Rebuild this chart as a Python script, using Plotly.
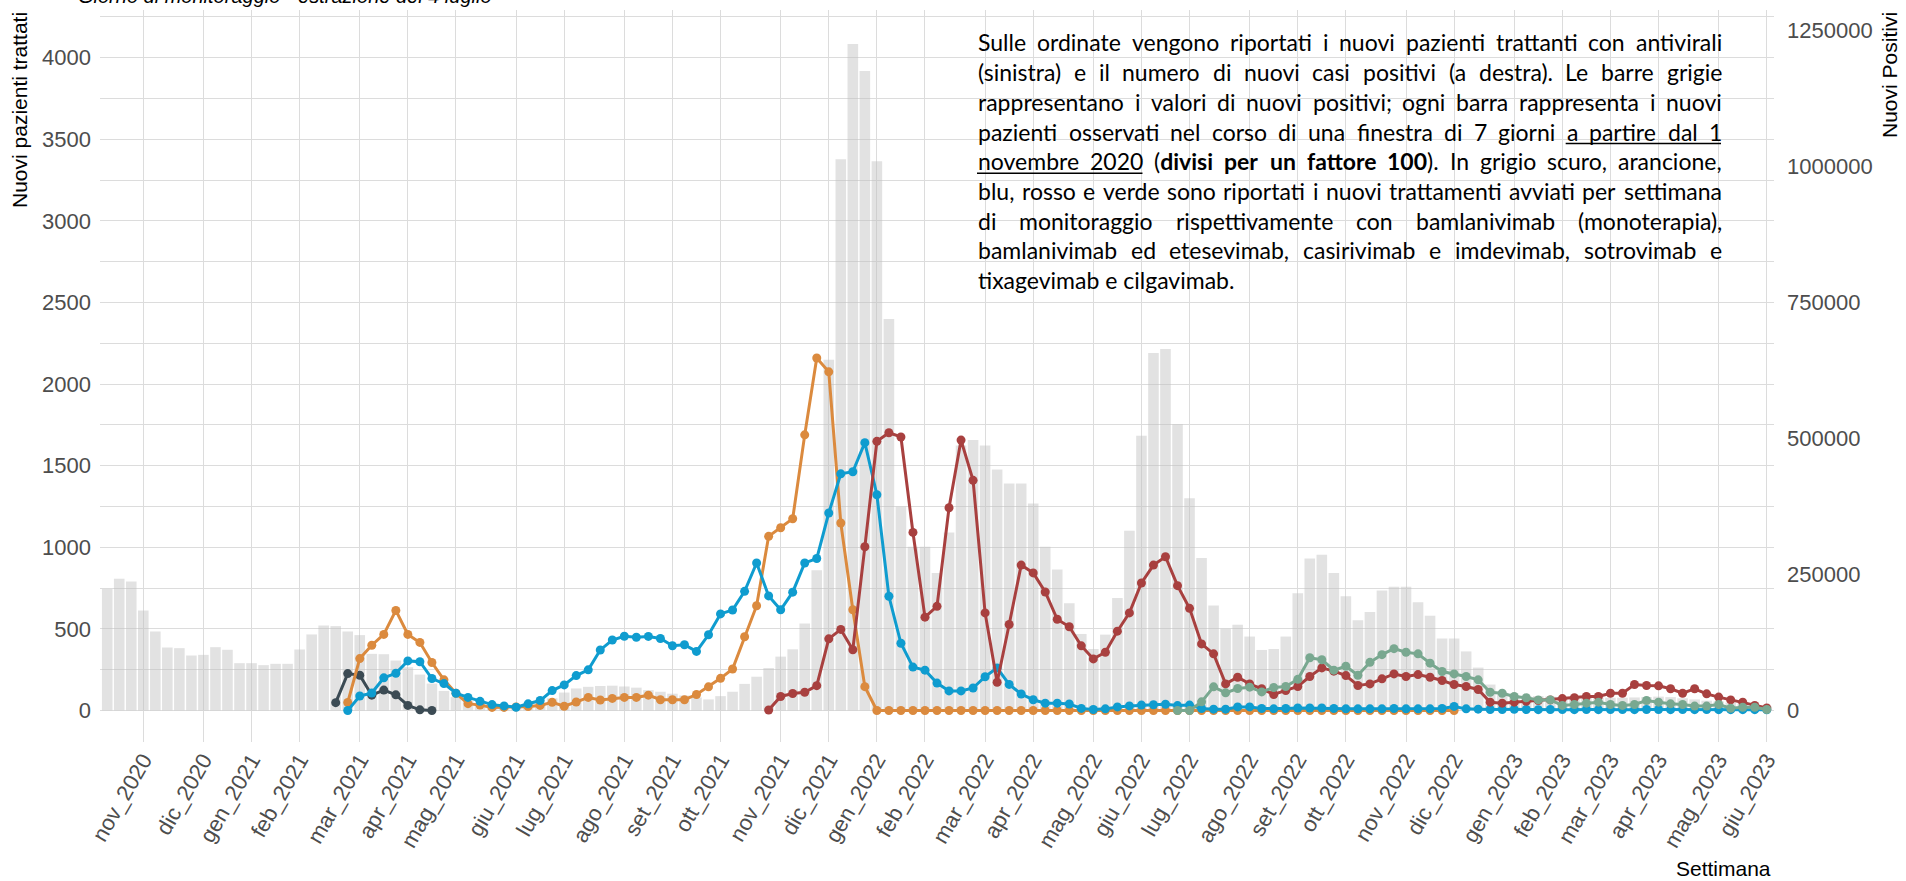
import re
import plotly.graph_objects as go

# ---------------- data ----------------
weeks = list(range(139))

tick_weeks = [3, 8, 12, 16, 21, 25, 29, 34, 38, 43, 47, 51, 56, 60, 64, 68, 73, 77,
              82, 86, 90, 95, 99, 103, 108, 112, 117, 121, 125, 129, 134, 138]
tick_labels = ["nov_2020", "dic_2020", "gen_2021", "feb_2021", "mar_2021", "apr_2021",
               "mag_2021", "giu_2021", "lug_2021", "ago_2021", "set_2021", "ott_2021",
               "nov_2021", "dic_2021", "gen_2022", "feb_2022", "mar_2022", "apr_2022",
               "mag_2022", "giu_2022", "lug_2022", "ago_2022", "set_2022", "ott_2022",
               "nov_2022", "dic_2022", "gen_2023", "feb_2023", "mar_2023", "apr_2023",
               "mag_2023", "giu_2023"]

# weekly new positives (right axis)
nuovi_positivi = [
    223500, 242100, 237000, 183900, 145200, 115800, 114600, 101100, 102300, 116400,
    111600, 87000, 87000, 83400, 85800, 85800, 112200, 139800, 156300, 155100,
    145200, 138600, 104100, 103500, 91800, 79500, 66000, 49500, 36000, 24600,
    18000, 13500, 10500, 7500, 6600, 8400, 13500, 22500, 33000, 40500,
    43500, 45000, 45600, 44100, 42000, 37500, 34500, 30900, 27600, 24000,
    20400, 26400, 34500, 48900, 62100, 78000, 99000, 112500, 159900, 258000,
    644700, 1013400, 1224900, 1175400, 1009500, 719700, 375000, 300900, 300900, 252900,
    327300, 486900, 497100, 486900, 442800, 417300, 417300, 380700, 300900, 259200,
    197100, 140700, 113100, 139500, 207000, 330600, 504900, 657000, 664500, 526200,
    390000, 280200, 192900, 150000, 157800, 135900, 111300, 113100, 135900, 215400,
    279600, 286500, 252600, 210000, 165900, 181200, 220800, 227400, 227400, 198900,
    174300, 132300, 132300, 108600, 78900, 47700, 33000, 28500, 26400, 26400,
    25500, 24600, 24000, 24000, 24000, 23400, 23400, 24000, 24600, 25500,
    24600, 22500, 20400, 18000, 16500, 14400, 12600, 10500, 7500]

# new treated patients per week (left axis)
bamlanivimab_start = 19
bamlanivimab = [48, 226, 216, 94, 125, 96, 31, 4, 0]

bam_etesevimab_start = 20
bam_etesevimab = [
    49, 318, 400, 466, 613, 466, 417, 294, 188, 105, 42, 33, 19, 19, 22, 24, 31, 50, 26, 52,
    80, 64, 74, 80, 80, 94, 66, 66, 66, 98, 145, 197, 254, 452, 642, 1067, 1120, 1175, 1689, 2160,
    2075, 1149, 617, 146,
    0, 0, 0, 0, 0, 0, 0, 0, 0, 0, 0, 0, 0, 0, 0, 0, 0, 0, 0, 0, 0, 0, 0, 0, 0,
    0, 0, 0, 0, 0, 0, 0, 0, 0, 0, 0, 0, 0, 0, 0, 0, 0, 0, 0, 0, 0, 0, 0, 0]

casirivimab_start = 20
casirivimab = [
    0, 89, 107, 200, 228, 304, 299, 196, 165, 106, 80, 56, 36, 28, 20, 41, 61, 122, 157, 214,
    249, 371, 432, 455, 449, 454, 441, 397, 403, 362, 464, 592, 616, 730, 904, 702, 617, 725, 904, 931,
    1210, 1450, 1463, 1641, 1322, 700, 412, 266, 247, 168, 120, 120, 138, 207, 261, 160, 101, 66, 45, 45,
    40, 13, 6, 10, 22, 28, 33, 35, 38, 30, 33, 12, 8, 8, 22, 22, 12, 10, 12, 15,
    15, 15, 12, 10, 10, 10, 10, 12, 10, 10, 10, 12, 25, 10, 8, 6, 6, 7, 6, 5,
    6, 6, 5, 6, 5, 6, 6, 5, 6, 6, 5, 6, 5, 6, 5, 5, 5, 5, 4]

sotrovimab_start = 55
sotrovimab = [
    3, 86, 104, 112, 152, 439, 497, 372, 1003, 1649, 1702, 1676, 1091, 572, 638, 1242, 1657, 1410, 598, 173,
    527, 891, 843, 726, 559, 513, 396, 316, 357, 486, 598, 781, 891, 942, 765, 626, 408, 347, 163, 204,
    163, 133, 98, 122, 147, 208, 261, 241, 214, 153, 163, 194, 224, 208, 220, 204, 184, 159, 147, 129,
    51, 45, 51, 57, 61, 65, 73, 78, 86, 86, 106, 106, 159, 153, 151, 133, 106, 133, 102, 82,
    65, 51, 31, 16]

tixagevimab_start = 89
tixagevimab = [
    0, 0, 53, 145, 108, 135, 143, 114, 141, 147, 191, 323, 311, 247, 271, 216, 295, 342, 379, 357,
    347, 290, 239, 224, 208, 188, 112, 106, 86, 78, 65, 65, 31, 37, 45, 51, 37, 31, 37, 61,
    51, 41, 37, 27, 27, 37, 14, 20, 20, 6]

series = [
    ("bamlanivimab", bamlanivimab_start, bamlanivimab, "#3c4b54"),
    ("bamlanivimab ed etesevimab", bam_etesevimab_start, bam_etesevimab, "#db8a3e"),
    ("casirivimab e imdevimab", casirivimab_start, casirivimab, "#0f9ccf"),
    ("sotrovimab", sotrovimab_start, sotrovimab, "#a8403f"),
    ("tixagevimab e cilgavimab", tixagevimab_start, tixagevimab, "#79a890"),
]

left_ticks = [0, 250, 500, 750, 1000, 1250, 1500, 1750, 2000, 2250, 2500, 2750,
              3000, 3250, 3500, 3750, 4000, 4250]
right_ticks = [0, 250000, 500000, 750000, 1000000, 1250000]

# ---------------- layout geometry ----------------
W, H = 1906, 881
ML, MR, MT, MB = 100, 132, 10, 139
PW, PH = W - ML - MR, H - MT - MB
LEFT_RANGE = [-193, 4292]
RATIO = 300
GRID = "#dcdcdc"
TICKFONT = dict(family="Liberation Sans, Arial, sans-serif", size=22, color="#4d4d4d")
TITLEFONT = dict(family="Liberation Sans, Arial, sans-serif", size=21, color="black")


def px_x(px):
    return (px - ML) / PW


def px_y(py):
    return 1 - (py - MT) / PH


fig = go.Figure()
fig.add_trace(go.Bar(x=weeks, y=nuovi_positivi, yaxis="y",
                     marker=dict(color="rgba(190,190,190,0.45)", line=dict(width=0)),
                     hoverinfo="skip", showlegend=False, name="Nuovi positivi"))
for name, start, vals, color in series:
    fig.add_trace(go.Scatter(x=weeks[start:start + len(vals)], y=vals, yaxis="y2",
                             mode="lines+markers", name=name, showlegend=False,
                             line=dict(color=color, width=3),
                             marker=dict(color=color, size=9)))

# ---------------- text block ----------------
TEXT_FONT = "Lato"
TEXT_SIZE = 23
X0, X1 = 977, 1721
LINE_Y = [45.5, 75.2, 104.9, 134.6, 164.3, 194.0, 223.7, 253.4, 283.1]
text_lines = [
    "Sulle ordinate vengono riportati i nuovi pazienti trattanti con antivirali",
    "(sinistra) e il numero di nuovi casi positivi (a destra). Le barre grigie",
    "rappresentano i valori di nuovi positivi; ogni barra rappresenta i nuovi",
    "pazienti osservati nel corso di una finestra di 7 giorni _a _partire _dal _1",
    "_novembre _2020 (<b>divisi</b> <b>per</b> <b>un</b> <b>fattore</b> <b>100</b>). In grigio scuro, arancione,",
    "blu, rosso e verde sono riportati i nuovi trattamenti avviati per settimana",
    "di monitoraggio rispettivamente con bamlanivimab (monoterapia),",
    "bamlanivimab ed etesevimab, casirivimab e imdevimab, sotrovimab e",
]
last_line = "tixagevimab e cilgavimab."

LATO = {' ': 0.193, 'a': 0.489, 'b': 0.554, 'c': 0.459, 'd': 0.554, 'e': 0.518, 'f': 0.32,
        'g': 0.499, 'h': 0.549, 'i': 0.235, 'j': 0.235, 'k': 0.509, 'l': 0.235, 'm': 0.824,
        'n': 0.549, 'o': 0.552, 'p': 0.543, 'q': 0.554, 'r': 0.384, 's': 0.426, 't': 0.354,
        'u': 0.549, 'v': 0.5, 'w': 0.754, 'x': 0.485, 'y': 0.5, 'z': 0.449, 'S': 0.534,
        'L': 0.47, 'I': 0.27, '(': 0.289, ')': 0.289, ',': 0.21, '.': 0.21, ';': 0.23}


def est_width(tok):
    plain = re.sub(r"<[^>]+>", "", tok)
    f = 1.05 if "<b>" in tok else 1.0
    return sum(LATO.get(c, 0.58) for c in plain) * TEXT_SIZE * f


annotations = []
shapes = []
for li, line in enumerate(text_lines):
    toks = line.split(" ")
    items = []
    for t in toks:
        ul = t.startswith("_")
        items.append((t[1:] if ul else t, ul))
    widths = [est_width(t) for t, _ in items]
    gap = (X1 - X0 - sum(widths)) / (len(items) - 1)
    x = X0
    ul_ext = None
    for k, ((t, ul), wd) in enumerate(zip(items, widths)):
        annotations.append(dict(text=t, x=px_x(x), y=px_y(LINE_Y[li] - 3), xref="paper", yref="paper",
                                xanchor="left", yanchor="middle", showarrow=False, borderpad=0,
                                font=dict(family=TEXT_FONT, size=TEXT_SIZE, color="black"),
                                name="w|%d|%d|j|%s" % (li, k, "u" if ul else "")))
        if ul:
            ul_ext = [x, x + wd] if ul_ext is None else [ul_ext[0], x + wd]
        x += wd + gap
    if ul_ext:
        shapes.append(dict(type="line", xref="paper", yref="paper", name="u|%d" % li,
                           x0=px_x(ul_ext[0]), x1=px_x(ul_ext[1]),
                           y0=px_y(LINE_Y[li] + 9), y1=px_y(LINE_Y[li] + 9),
                           line=dict(color="black", width=1.5)))
annotations.append(dict(text=last_line, x=px_x(X0), y=px_y(LINE_Y[8] - 3), xref="paper", yref="paper",
                        xanchor="left", yanchor="middle", showarrow=False, borderpad=0,
                        font=dict(family=TEXT_FONT, size=TEXT_SIZE, color="black")))

# titles
annotations += [
    dict(text="<i>Giorno di monitoraggio - estrazione del 4 luglio</i>", x=px_x(76), y=px_y(-4),
         xref="paper", yref="paper", xanchor="left", yanchor="middle", showarrow=False,
         font=dict(family="Liberation Sans, Arial, sans-serif", size=20, color="black")),
    dict(text="Nuovi pazienti trattati", x=px_x(19), y=px_y(10), xref="paper", yref="paper",
         xanchor="center", yanchor="top", textangle=-90, showarrow=False, font=TITLEFONT),
    dict(text="Nuovi Positivi", x=px_x(1889), y=px_y(10), xref="paper", yref="paper",
         xanchor="center", yanchor="top", textangle=-90, showarrow=False, font=TITLEFONT),
    dict(text="Settimana", x=px_x(1773), y=px_y(868), xref="paper", yref="paper",
         xanchor="right", yanchor="middle", showarrow=False, font=TITLEFONT),
]

fig.update_layout(
    width=W, height=H,
    margin=dict(l=ML, r=MR, t=MT, b=MB, autoexpand=False),
    plot_bgcolor="white", paper_bgcolor="white",
    bargap=0.12, showlegend=False,
    xaxis=dict(range=[-0.6, 138.6], tickmode="array", tickvals=tick_weeks, ticktext=tick_labels,
               tickangle=-60, tickfont=TICKFONT, showgrid=True, gridcolor=GRID, gridwidth=1,
               zeroline=False, showline=False, ticks=""),
    yaxis=dict(side="right", range=[LEFT_RANGE[0] * RATIO, LEFT_RANGE[1] * RATIO],
               tickmode="array", tickvals=right_ticks, ticktext=[str(v) for v in right_ticks],
               showgrid=False, zeroline=False, showline=False, ticks="", tickfont=TICKFONT,
               ticklabelstandoff=12),
    yaxis2=dict(overlaying="y", side="left", range=LEFT_RANGE, tickmode="array",
                tickvals=left_ticks,
                ticktext=[str(v) if v % 500 == 0 and v <= 4000 else "" for v in left_ticks],
                showgrid=True, gridcolor=GRID, gridwidth=1, zeroline=False, showline=False,
                ticks="", tickfont=TICKFONT, ticklabelstandoff=8),
    annotations=annotations,
    shapes=shapes,
)

post_js = """
document.body.style.margin = '0';
document.documentElement.style.overflow = 'hidden';
var gd = document.getElementById('{plot_id}');
function fixText() {
  var fl = gd._fullLayout;
  var l = fl._size.l, w = fl._size.w;
  var anns = gd.layout.annotations || [];
  var meas = {};
  var nodes = gd.querySelectorAll('g.annotation');
  for (var n = 0; n < nodes.length; n++) {
    var g = nodes[n];
    var idx = +g.getAttribute('data-index');
    var t = g.querySelector('text.annotation-text');
    if (t) { meas[idx] = t.getBBox().width; }
  }
  var lines = {};
  for (var i = 0; i < anns.length; i++) {
    var a = anns[i];
    if (a.name && a.name.indexOf('w|') === 0) {
      var p = a.name.split('|');
      if (!lines[p[1]]) lines[p[1]] = [];
      lines[p[1]].push({i: i, k: +p[2], u: p[4] === 'u'});
    }
  }
  var X0 = __X0__, X1 = __X1__;
  var upd = {}; var ul = {};
  for (var ln in lines) {
    var arr = lines[ln].sort(function(a, b) { return a.k - b.k; });
    var tot = 0;
    for (var j = 0; j < arr.length; j++) { arr[j].w = meas[arr[j].i] || 0; tot += arr[j].w; }
    var gap = arr.length > 1 ? (X1 - X0 - tot) / (arr.length - 1) : 0;
    var x = X0;
    for (var j = 0; j < arr.length; j++) {
      var o = arr[j];
      upd['annotations[' + o.i + '].x'] = (x - l) / w;
      if (o.u) {
        if (!ul[ln]) ul[ln] = [x, x + o.w];
        else { ul[ln][0] = Math.min(ul[ln][0], x); ul[ln][1] = Math.max(ul[ln][1], x + o.w); }
      }
      x += o.w + gap;
    }
  }
  var shp = gd.layout.shapes || [];
  for (var s = 0; s < shp.length; s++) {
    var nm = shp[s].name;
    if (nm && nm.indexOf('u|') === 0) {
      var key = nm.split('|')[1];
      if (ul[key]) {
        upd['shapes[' + s + '].x0'] = (ul[key][0] - l) / w;
        upd['shapes[' + s + '].x1'] = (ul[key][1] - l) / w;
      }
    }
  }
  Plotly.relayout(gd, upd);
}
try {
  if (document.fonts && document.fonts.ready) { document.fonts.ready.then(fixText); } else { fixText(); }
} catch (e) { }
""".replace("__X0__", str(X0)).replace("__X1__", str(X1))

fig.write_html("out.html", post_script=post_js, config={"displayModeBar": False})
